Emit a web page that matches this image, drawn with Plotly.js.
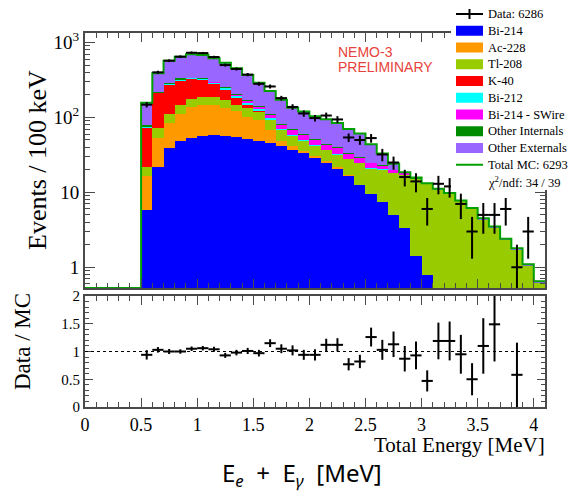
<!DOCTYPE html>
<html><head><meta charset="utf-8">
<script src="https://cdn.plot.ly/plotly-3.0.1.min.js"></script>
<style>html,body{margin:0;padding:0;background:#fff}#chart{width:568px;height:493px}</style>
</head><body><div id="chart"></div>
<script>
// ---- data (bin centres in MeV, 100 keV bins) ----
const energy = [0.05,0.15,0.25,0.35,0.45,0.55,0.65,0.75,0.85,0.95,1.05,1.15,1.25,1.35,1.45,1.55,1.65,1.75,1.85,1.95,2.05,2.15,2.25,2.35,2.45,2.55,2.65,2.75,2.85,2.95,3.05,3.15,3.25,3.35,3.45,3.55,3.65,3.75,3.85,3.95,4.05];
const binWidth = 0.1;

const bi214 = [0,0,0,0,0, 5.8,22,39,48,53,56,58,57,55,52,48,45,41,37,33,29,25,20.5,16.5,12.5,9.5,7.5,5,3.3,1.4,0.8, 0,0,0,0,0,0,0,0,0,0];
const ac228 = [0,0,0,0,0, 10.5,31,46,63,86,91,89,76,66,50,45,22,7,4,3,2,1.5,1,0.5, 0,0,0,0,0,0,0,0,0,0,0,0,0,0,0,0,0];
const tl208 = [0,0,0,0,0, 5.7,19,26,36,36,39,43,38,27,30,26,24,20,16,12,11,10,10,10.5,11.8,11.3,12.5,13,14,13.6,12,10.9,9.6,7.6,6.0,4.3,3.35,2.3,1.7,1.05,0.62];
const k40   = [0,0,0,0,0, 50,138,160,163,148,130,90,62,33,16,2, 0,0,0,0,0,0,0,0,0,0,0,0,0,0,0,0,0,0,0,0,0,0,0,0,0];
const bi212 = [0,0,0,0,0, 2,4,7,9,9,8,10,12,14,10,8,6,3,2,1.5,1,0.8,0.6,0.4,0.3,0.2,0.2,0.1, 0,0,0,0,0,0,0,0,0,0,0,0,0];
const swire = [0,0,0,0,0, 0.3,0.5,1,1.5,2,2,3,4,6,8,10,10,8,9,9,7.5,6,6.7,5,4,3.3,2.5,1.5,0.6,0.2, 0,0,0,0,0,0,0,0,0,0,0];
const oint  = [0,0,0,0,0, 4.5,6,11,11,7,5,5,6,7,6,5,4,3,2,2,1.5,1.5,1.2,1,0.8,0.7,0.5,0.4,0.3,0.2,0.1, 0,0,0,0,0,0,0,0,0,0];
const oext  = [0,0,0,0,0, 78,167,282,315,354,350,317,283,245,197,146,114,90,65,59.5,52,50,44,36,31.6,19,9.8,4,0.3,0.4,0.3,0.3,0.2,0.2,0.2,0.2,0.15,0.1,0.1,0.05,0.03];

const dataCounts = [null,null,null,null,null, 148,400,572,647,730,722,640,500,444,373,281,259,181,138,113,98,106,94,54,50,53,32,25,16,14,6,13,12,7,3,5,5,6,1,3,null];
const dataErr    = [null,null,null,null,null, 12,20,24,25,27,27,25,22,21,19,17,16,13,12,11,10,10,10,7,7,7,6,5,4,4,2.4,3.6,3.5,2.6,1.7,2.2,2.2,2.4,1,1.7,null];
const ratio      = [null,null,null,null,null, 0.94,1.03,1.0,1.0,1.05,1.06,1.04,0.93,0.98,1.01,0.97,1.15,1.05,1.02,0.94,0.94,1.12,1.12,0.77,0.82,1.26,1.03,1.13,0.87,0.93,0.47,1.19,1.19,0.95,0.5,1.10,1.49,null,0.58,null,null];
const ratioErr   = [null,null,null,null,null, 0.085,0.05,0.045,0.04,0.04,0.04,0.045,0.045,0.05,0.055,0.06,0.07,0.08,0.09,0.09,0.1,0.11,0.12,0.11,0.12,0.17,0.18,0.23,0.23,0.25,0.19,0.33,0.35,0.35,0.29,0.5,0.67,null,0.58,null,null];

const componentNames  = ['Bi-214','Ac-228','Tl-208','K-40','Bi-212','Bi-214 - SWire','Other Internals','Other Externals'];
const componentColors = ['#0000ff','#ff9900','#99cc00','#ff0000','#00ffff','#ff00ff','#008c00','#9966ff'];
const components = [bi214, ac228, tl208, k40, bi212, swire, oint, oext];

const legendLabels = ['Data: 6286','Bi-214','Ac-228','Tl-208','K-40','Bi-212','Bi-214 - SWire','Other Internals','Other Externals','Total MC: 6293','χ<sup>2</sup>/ndf: 34 / 39'];
const legendKinds  = ['data','box','box','box','box','box','box','box','box','line','none'];

const yTickVals = [1,10,100,1000];
const yTickText = ['1','10','10<sup>2</sup>','10<sup>3</sup>'];
const mcColor = '#00a000';

// ---- geometry ----
const W = 568, H = 493, M = {l:85, r:23, t:33, b:86};
const plotW = W - M.l - M.r, plotH = H - M.t - M.b;
const px2x = p => (p - M.l) / plotW;
const py2y = p => (H - M.b - p) / plotH;
const yLogRange = [-0.277, 3.127];
const floorVal = Math.pow(10, yLogRange[0]);

// ---- traces ----
const traces = [];
components.forEach((arr, i) => {
  traces.push({type:'bar', x: energy, y: arr, width: binWidth, name: componentNames[i],
    marker:{color: componentColors[i], line:{width:0}}, xaxis:'x', yaxis:'y', hoverinfo:'skip'});
});
// total MC step line
const total = energy.map((_, j) => components.reduce((s, a) => s + a[j], 0));
const edges = energy.map(e => e - binWidth/2).concat([energy[energy.length-1] + binWidth/2]);
const totalStep = total.map(v => v > 0 ? v : floorVal);
totalStep.push(totalStep[totalStep.length-1]);
traces.push({type:'scatter', mode:'lines', x: edges, y: totalStep, line:{color: mcColor, width:2, shape:'hv'},
  xaxis:'x', yaxis:'y', hoverinfo:'skip'});
// data
traces.push({type:'scatter', mode:'markers', x: energy, y: dataCounts,
  marker:{size:2, color:'#000'},
  error_y:{type:'data', array: dataErr, color:'#000', thickness:2, width:0},
  error_x:{type:'constant', value: binWidth/2, color:'#000', thickness:2, width:0},
  xaxis:'x', yaxis:'y', hoverinfo:'skip'});
// ratio
traces.push({type:'scatter', mode:'markers', x: energy, y: ratio,
  marker:{size:2, color:'#000'},
  error_y:{type:'data', array: ratioErr, color:'#000', thickness:2, width:0},
  error_x:{type:'constant', value: binWidth/2, color:'#000', thickness:2, width:0},
  xaxis:'x2', yaxis:'y2', hoverinfo:'skip', cliponaxis:true});

// ---- layout ----
const serif = '"Liberation Serif", "Times New Roman", serif';
const frame = {showline:true, linecolor:'#4a4a4a', linewidth:2, mirror:'allticks', showgrid:false, zeroline:false,
  ticks:'inside', tickcolor:'#4a4a4a', tickwidth:1};
const minorLog = [];
for (let d = -1; d <= 3; d++) for (let k = 2; k <= 9; k++) minorLog.push(k * Math.pow(10, d));

const shapes = [
  {type:'line', xref:'x2 domain', yref:'y2', x0:0, x1:1, y0:1, y1:1, line:{color:'#000', width:1, dash:'dot'}, layer:'above'},
  {type:'rect', xref:'paper', yref:'paper', x0:px2x(451), x1:px2x(W), y0:py2y(190), y1:py2y(0), fillcolor:'#fff', line:{width:0}, layer:'above'}
];
const annotations = [];
const legTop = 14, legStep = 16.75, symL = 456, symR = 483, textX = 487;
legendLabels.forEach((lab, i) => {
  const cy = legTop + i * legStep;
  const kind = legendKinds[i];
  if (kind === 'box') {
    shapes.push({type:'rect', xref:'paper', yref:'paper', x0:px2x(symL), x1:px2x(symR), y0:py2y(cy+5), y1:py2y(cy-5),
      fillcolor: componentColors[i-1], line:{width:0}, layer:'above'});
  } else if (kind === 'data') {
    shapes.push({type:'line', xref:'paper', yref:'paper', x0:px2x(symL), x1:px2x(symR), y0:py2y(cy), y1:py2y(cy), line:{color:'#000', width:2}, layer:'above'});
    shapes.push({type:'line', xref:'paper', yref:'paper', x0:px2x((symL+symR)/2), x1:px2x((symL+symR)/2), y0:py2y(cy-5), y1:py2y(cy+5), line:{color:'#000', width:2}, layer:'above'});
  } else if (kind === 'line') {
    shapes.push({type:'line', xref:'paper', yref:'paper', x0:px2x(symL), x1:px2x(symR), y0:py2y(cy), y1:py2y(cy), line:{color: mcColor, width:2}, layer:'above'});
  }
  annotations.push({xref:'paper', yref:'paper', x:px2x(textX), y:py2y(cy), xanchor:'left', yanchor:'middle',
    text: lab, showarrow:false, font:{family: serif, size:12.5, color:'#000'}, borderpad:0});
});
annotations.push(
  {xref:'paper', yref:'paper', x:px2x(337), y:py2y(52), xanchor:'left', yanchor:'middle', text:'NEMO-3', showarrow:false,
   font:{family:'"Liberation Sans", Arial, sans-serif', size:14, color:'#e8433a'}, borderpad:0},
  {xref:'paper', yref:'paper', x:px2x(337), y:py2y(67), xanchor:'left', yanchor:'middle', text:'PRELIMINARY', showarrow:false,
   font:{family:'"Liberation Sans", Arial, sans-serif', size:14, color:'#e8433a'}, borderpad:0},
  {xref:'paper', yref:'paper', x:px2x(37), y:py2y(160), xanchor:'center', yanchor:'middle', textangle:-90, text:'Events / 100 keV', showarrow:false,
   font:{family: serif, size:26, color:'#000'}, borderpad:0},
  {xref:'paper', yref:'paper', x:px2x(22), y:py2y(342), xanchor:'center', yanchor:'middle', textangle:-90, text:'Data / MC', showarrow:false,
   font:{family: serif, size:23, color:'#000'}, borderpad:0},
  {xref:'paper', yref:'paper', x:px2x(546), y:py2y(445), xanchor:'right', yanchor:'middle', text:'Total Energy [MeV]', showarrow:false,
   font:{family: serif, size:21, color:'#000'}, borderpad:0},
  {xref:'paper', yref:'paper', x:px2x(302), y:py2y(474), xanchor:'center', yanchor:'middle',
   text:'E<sub><i>e</i></sub>  +  E<sub><i>γ</i></sub>  [MeV]', showarrow:false,
   font:{family:'"Noto Sans", "Open Sans", sans-serif', size:24, color:'#000'}, borderpad:0}
);

const layout = {
  width: W, height: H, margin: M, paper_bgcolor:'#fff', plot_bgcolor:'#fff',
  showlegend:false, barmode:'stack', bargap:0,
  font:{family: serif, color:'#000'},
  xaxis: Object.assign({}, frame, {domain:[0,1], anchor:'y', range:[0,4.1], tick0:0, dtick:0.5, ticklen:9,
    showticklabels:false, minor:{dtick:0.1, ticks:'inside', ticklen:5, tickcolor:'#4a4a4a'}}),
  yaxis: Object.assign({}, frame, {domain:[py2y(288),1], anchor:'x', type:'log', range:yLogRange,
    tickmode:'array', tickvals:yTickVals, ticktext:yTickText, ticklen:10,
    tickfont:{family: serif, size:19, color:'#000'},
    minor:{tickmode:'array', tickvals:minorLog, ticks:'inside', ticklen:5, tickcolor:'#4a4a4a'}}),
  xaxis2: Object.assign({}, frame, {domain:[0,1], anchor:'y2', matches:'x', range:[0,4.1], tick0:0, dtick:0.5, ticklen:9,
    tickfont:{family: serif, size:18, color:'#000'},
    minor:{dtick:0.1, ticks:'inside', ticklen:5, tickcolor:'#4a4a4a'}}),
  yaxis2: Object.assign({}, frame, {domain:[0,py2y(296)], anchor:'x2', range:[0,2], tick0:0, dtick:0.5, ticklen:8,
    tickfont:{family: serif, size:15, color:'#000'},
    minor:{dtick:0.1, ticks:'inside', ticklen:4, tickcolor:'#4a4a4a'}}),
  shapes: shapes,
  annotations: annotations
};

Plotly.newPlot('chart', traces, layout, {staticPlot:true, displayModeBar:false});
</script>
</body></html>
